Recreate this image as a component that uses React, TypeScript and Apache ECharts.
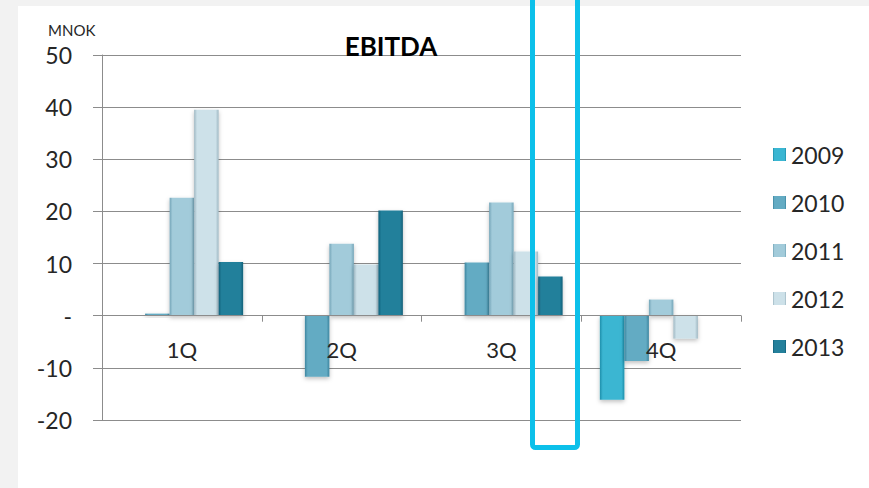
import React, { useEffect, useRef } from "react";
import * as echarts from "echarts";

const categories = ["1Q", "2Q", "3Q", "4Q"];
const seriesNames = ["2009", "2010", "2011", "2012", "2013"];
const s2009 = [null, null, null, -16.1];
const s2010 = [0.4, -11.7, 10.2, -8.7];
const s2011 = [22.6, 13.8, 21.7, 3.1];
const s2012 = [39.5, 9.8, 12.3, -4.4];
const s2013 = [10.3, 20.2, 7.5, null];
const yTicks = { min: -20, max: 50, interval: 10 };

const palette = [
  { edge: "#1f8fab", mid: "#3ab6d2" },
  { edge: "#3d86a0", mid: "#63abc3" },
  { edge: "#74a5b8", mid: "#a2cbda" },
  { edge: "#9fb8c3", mid: "#cde1e9" },
  { edge: "#12607a", mid: "#24809b" },
];

const FONT = "Lato, 'Open Sans', sans-serif";

export default function App() {
  const ref = useRef<HTMLDivElement>(null);
  useEffect(() => {
    document.body.style.margin = "0";
    if (!ref.current) return;
    const chart = echarts.init(ref.current, null, { renderer: "svg" });
    const data = [s2009, s2010, s2011, s2012, s2013];
    const grad = (p: { edge: string; mid: string }) =>
      new echarts.graphic.LinearGradient(0, 0, 1, 0, [
        { offset: 0, color: p.edge },
        { offset: 0.12, color: p.mid },
        { offset: 0.88, color: p.mid },
        { offset: 1, color: p.edge },
      ]);
    chart.setOption({
      animation: false,
      backgroundColor: "transparent",
      textStyle: { fontFamily: FONT },
      title: {
        text: "EBITDA",
        left: 386,
        top: 28,
        textAlign: "center",
        textStyle: { fontFamily: FONT, fontSize: 26, fontWeight: "bold", color: "#000" },
      },
      legend: {
        orient: "vertical",
        left: 768,
        top: 138,
        itemWidth: 13,
        itemHeight: 13,
        itemGap: 25,
        icon: "rect",
        data: seriesNames,
        textStyle: { fontFamily: FONT, fontSize: 23, lineHeight: 22, color: "#262626", padding: [0, 0, 0, 0] },
      },
      grid: { left: 102, right: 128, top: 55, bottom: 68, containLabel: false },
      xAxis: {
        type: "category",
        data: categories,
        z: 10,
        axisLine: { onZero: true, lineStyle: { color: "#8c8c8c", width: 1 } },
        axisTick: { show: true, length: 6, lineStyle: { color: "#8c8c8c" } },
        axisLabel: { margin: -82, fontFamily: FONT, fontSize: 22, color: "#262626" },
      },
      yAxis: {
        type: "value",
        min: yTicks.min,
        max: yTicks.max,
        interval: yTicks.interval,
        axisLine: { show: true, lineStyle: { color: "#8c8c8c", width: 1 } },
        axisTick: { show: true, length: 9, lineStyle: { color: "#8c8c8c" } },
        splitLine: { show: true, lineStyle: { color: "#8c8c8c", width: 1 } },
        axisLabel: {
          margin: 30,
          fontFamily: FONT,
          fontSize: 23,
          color: "#262626",
          formatter: (v: number) => (v === 0 ? "-" : String(v)),
        },
      },
      graphic: [
        {
          type: "rect",
          z: -10,
          silent: true,
          shape: { x: 18, y: 6, width: 851, height: 482 },
          style: { fill: "#ffffff" },
        },
        {
          type: "text",
          z: 5,
          silent: true,
          x: 48,
          y: 22,
          style: { text: "MNOK", fontFamily: FONT, fontSize: 15, fill: "#262626" },
        },
        {
          type: "rect",
          z: 100,
          silent: true,
          shape: { x: 532.5, y: -10, width: 45, height: 457.5, r: 3 },
          style: { fill: "none", stroke: "#0cc0ea", lineWidth: 5 },
        },
      ],
      series: data.map((d, i) => ({
        name: seriesNames[i],
        type: "bar",
        data: d,
        barWidth: 24.5,
        barGap: "0%",
        itemStyle: {
          color: grad(palette[i]),
          shadowColor: "rgba(0,0,0,0.25)",
          shadowBlur: 4,
          shadowOffsetY: 2,
        },
      })),
    });
    return () => chart.dispose();
  }, []);
  return <div ref={ref} style={{ width: 869, height: 488, background: "#f2f2f2" }} />;
}
